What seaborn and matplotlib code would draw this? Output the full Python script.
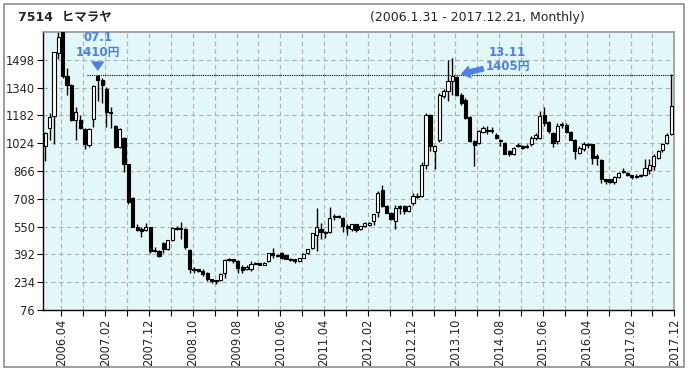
"""Monthly candlestick chart for 7514 ヒマラヤ."""

import matplotlib.pyplot as plt
import seaborn as sns
import numpy as np
import pandas as pd
from matplotlib.patches import Rectangle

# monthly OHLC, 2006.01 - 2017.12
opens = [1007, 1111, 1177, 1536, 1690, 1404, 1353, 1158, 1158, 1102, 1013, 1164,
         1404, 1385, 1334, 1202, 1121, 1002, 1055, 904, 715, 549, 536, 530,
         545, 417, 413, 455, 421, 474, 543, 543, 534, 415, 311, 307,
         298, 289, 251, 245, 245, 289, 360, 364, 355, 323, 311, 308,
         345, 341, 334, 353, 398, 387, 402, 387, 368, 364, 355, 373,
         398, 430, 500, 538, 519, 519, 613, 613, 600, 553, 534, 562,
         534, 553, 557, 581, 632, 757, 666, 628, 581, 666, 666, 638,
         685, 720, 726, 900, 1183, 979, 1045, 1291, 1323, 1379, 1400, 1300,
         1272, 1172, 1036, 1026, 1088, 1092, 1094, 1073, 1045, 1026, 979, 964,
         1010, 1008, 1005, 1017, 1055, 1055, 1183, 1145, 1083, 1036, 1130, 1130,
         1089, 1045, 970, 989, 1013, 1017, 951, 926, 819, 819, 806, 832,
         860, 856, 841, 838, 841, 841, 870, 894, 941, 983, 1026, 1077]
highs = [1090, 1196, 1545, 1700, 1720, 1451, 1360, 1228, 1187, 1108, 1108, 1357,
         1410, 1395, 1341, 1230, 1125, 1110, 1060, 905, 720, 564, 545, 573,
         550, 432, 415, 460, 475, 550, 553, 578, 540, 420, 323, 310,
         307, 292, 255, 249, 285, 364, 370, 368, 360, 330, 330, 355,
         350, 345, 350, 402, 430, 395, 406, 390, 370, 368, 372, 398,
         422, 515, 657, 572, 525, 662, 624, 615, 605, 562, 565, 566,
         556, 575, 576, 623, 751, 789, 670, 632, 675, 670, 670, 670,
         741, 741, 915, 1196, 1190, 1015, 1310, 1330, 1498, 1511, 1405, 1310,
         1280, 1176, 1040, 1100, 1121, 1121, 1115, 1080, 1050, 1030, 985, 1005,
         1026, 1015, 1017, 1065, 1080, 1209, 1228, 1150, 1090, 1140, 1143, 1140,
         1095, 1050, 1008, 1030, 1026, 1020, 964, 932, 822, 822, 835, 860,
         885, 860, 845, 851, 850, 932, 932, 964, 985, 1025, 1080, 1420]
lows = [923, 1045, 1017, 1500, 1395, 1300, 1149, 1045, 1102, 989, 1000, 1115,
        1266, 1253, 1115, 1110, 998, 995, 862, 680, 545, 523, 490, 523,
        398, 404, 375, 400, 415, 470, 530, 480, 421, 289, 289, 290,
        270, 241, 232, 226, 240, 257, 355, 341, 289, 289, 305, 300,
        335, 330, 330, 350, 374, 378, 368, 365, 355, 341, 350, 370,
        395, 425, 411, 481, 487, 515, 587, 600, 519, 500, 524, 519,
        530, 548, 552, 557, 606, 664, 625, 590, 538, 624, 624, 634,
        675, 715, 720, 880, 979, 875, 1030, 1280, 1262, 1300, 1290, 1240,
        1160, 1030, 894, 1020, 1080, 1077, 1080, 1050, 1008, 960, 951, 955,
        1002, 990, 994, 1010, 1045, 1050, 1120, 1080, 1002, 1017, 1111, 1080,
        1040, 932, 960, 980, 998, 904, 900, 800, 790, 800, 790, 825,
        856, 835, 819, 825, 830, 835, 847, 870, 932, 975, 1020, 1070]
closes = [1083, 1172, 1541, 1625, 1404, 1357, 1158, 1202, 1111, 1017, 1102, 1347,
          1385, 1357, 1202, 1195, 1002, 1102, 904, 692, 549, 530, 526, 549,
          409, 409, 385, 422, 472, 543, 538, 538, 434, 308, 304, 298,
          283, 251, 241, 238, 283, 358, 368, 355, 317, 304, 323, 336,
          340, 334, 345, 398, 387, 383, 374, 368, 360, 355, 370, 396,
          420, 511, 547, 519, 511, 600, 606, 606, 556, 543, 562, 530,
          553, 568, 572, 619, 741, 666, 628, 594, 657, 657, 638, 666,
          723, 726, 902, 1183, 1008, 1008, 1300, 1323, 1376, 1404, 1300, 1253,
          1168, 1036, 1013, 1096, 1111, 1094, 1092, 1055, 1036, 964, 964, 998,
          1013, 998, 1008, 1055, 1073, 1177, 1140, 1092, 1026, 1121, 1134, 1089,
          1045, 979, 994, 1017, 1013, 941, 941, 819, 809, 806, 832, 856,
          866, 841, 832, 830, 838, 885, 900, 951, 979, 1017, 1073, 1234]

y_ticks = [76, 234, 392, 550, 708, 866, 1024, 1182, 1340, 1498]
months = pd.date_range("2006-01-01", periods=len(opens), freq="MS")

BLUE = "#4a7ff0"
ARROW = "simple,head_width=0.7,head_length=0.5,tail_width=0.3"

sns.set_style("white")
plt.rcParams["font.family"] = ["DejaVu Sans", "Noto Sans CJK JP"]

df = pd.DataFrame({"open": opens, "high": highs, "low": lows, "close": closes})
df["idx"] = np.arange(len(df))
df["up"] = df["close"] >= df["open"]
df["bottom"] = df[["open", "close"]].min(axis=1)
df["height"] = (df["close"] - df["open"]).abs().clip(lower=5)

fig = plt.figure(figsize=(6.89, 3.71), dpi=100)
ax = fig.add_axes([43.3 / 689, 61 / 371, 631 / 689, 278 / 371])
ax.set_facecolor("#e2f8f8")

# wicks and bodies
ax.vlines(df["idx"], df["low"], df["high"], color="black", lw=1, zorder=2)
ax.bar(df["idx"], df["height"], bottom=df["bottom"], width=0.72,
       color=np.where(df["up"], "white", "black"), edgecolor="black",
       lw=0.8, zorder=3)

ax.set_xlim(-0.43, 143.7)
ax.set_ylim(76, 1656)

# ticks sit a bit right of the candle centres, as in the source
major = np.arange(3, len(df), 10)
minor = np.arange(8, len(df), 10)
ax.set_xticks(major + 0.7)
ax.set_xticklabels([months[i].strftime("%Y.%m") for i in major], rotation=90,
                   fontsize=8.3)
ax.set_xticks(minor + 0.7, minor=True)
ax.set_yticks(y_ticks)
ax.set_yticklabels([str(v) for v in y_ticks], fontsize=8.3)
ax.tick_params(which="both", direction="out", length=4, width=0.8,
               color="black", left=True, bottom=True, pad=2)
ax.grid(True, which="both", ls=(0, (4, 3)), color="#b0b0b0", lw=0.8, zorder=0)
ax.set_axisbelow(True)

for s in ["left", "bottom"]:
    ax.spines[s].set_color("black")
    ax.spines[s].set_linewidth(1)
for s in ["top", "right"]:
    ax.spines[s].set_color("#999999")
    ax.spines[s].set_linewidth(1.2)

# dotted reference line at the 2007.01 high
ax.hlines(1410, 9.6, 143.7, color="black", lw=0.8, linestyles=(0, (1, 1)),
          zorder=4)

# annotations
ax.text(12, 1627, "07.1", color=BLUE, fontsize=8.5, fontweight="bold",
        ha="center", va="center")
ax.text(12, 1542, "1410円", color=BLUE, fontsize=8.5, fontweight="bold",
        ha="center", va="center")
ax.annotate("", xy=(12, 1418), xytext=(12, 1505),
            arrowprops=dict(arrowstyle=ARROW, color=BLUE, lw=0,
                            mutation_scale=14), zorder=5)
ax.text(105.5, 1538, "13.11", color=BLUE, fontsize=8.5, fontweight="bold",
        ha="center", va="center")
ax.text(105.7, 1458, "1405円", color=BLUE, fontsize=8.5, fontweight="bold",
        ha="center", va="center")
ax.annotate("", xy=(94.3, 1412), xytext=(100.8, 1452),
            arrowprops=dict(arrowstyle=ARROW, color=BLUE, lw=0,
                            mutation_scale=14), zorder=5)

# header
fig.text(18 / 689, 1 - 17 / 371, "7514  ヒマラヤ", fontsize=9,
         fontweight="bold", va="center")
fig.text(370 / 689, 1 - 17 / 371, "(2006.1.31 - 2017.12.21, Monthly)",
         fontsize=9, va="center")

# outer frame
fig.patches.append(Rectangle((4 / 689, 4 / 371), 680 / 689, 363 / 371,
                             transform=fig.transFigure, fill=False,
                             edgecolor="#8c8c8c", lw=1.2))

fig.savefig("out.png", dpi=100)
